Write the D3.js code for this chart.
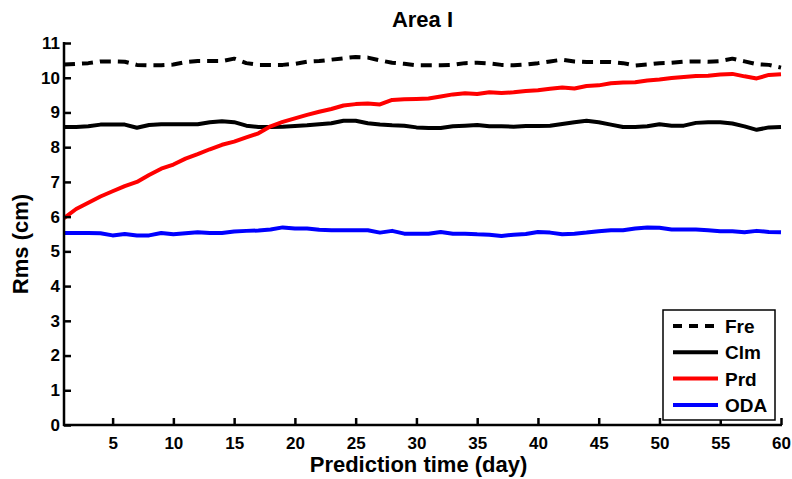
<!DOCTYPE html>
<html lang="en">
<head>
<meta charset="utf-8">
<title>Area I</title>
<script src="https://cdn.jsdelivr.net/npm/d3@7"></script>
<style>
body{margin:0;background:#fff;}
text{font-family:"Liberation Sans",Arial,Helvetica,sans-serif;font-weight:bold;}
</style>
</head>
<body>
<script>
// days 1..60
var days = d3.range(1, 61);

var fre = [10.38,10.40,10.42,10.47,10.47,10.46,10.37,10.36,10.36,10.38,
           10.45,10.48,10.48,10.48,10.55,10.42,10.37,10.37,10.37,10.40,
           10.46,10.48,10.52,10.56,10.60,10.58,10.50,10.43,10.40,10.36,
           10.36,10.36,10.37,10.42,10.43,10.41,10.37,10.36,10.38,10.42,
           10.47,10.52,10.47,10.45,10.45,10.45,10.42,10.35,10.38,10.42,
           10.43,10.46,10.47,10.46,10.48,10.55,10.47,10.39,10.37,10.29];
var clm = [8.58,8.58,8.60,8.65,8.65,8.65,8.56,8.64,8.66,8.66,
           8.66,8.66,8.72,8.75,8.72,8.62,8.58,8.58,8.59,8.61,
           8.63,8.66,8.69,8.76,8.76,8.69,8.65,8.63,8.62,8.57,
           8.55,8.55,8.60,8.62,8.64,8.60,8.60,8.59,8.61,8.61,
           8.62,8.67,8.72,8.76,8.72,8.65,8.58,8.58,8.60,8.66,
           8.62,8.62,8.70,8.72,8.72,8.68,8.60,8.50,8.57,8.58];
var prd = [5.96,6.22,6.40,6.58,6.73,6.88,7.00,7.20,7.38,7.50,
           7.67,7.80,7.94,8.07,8.16,8.28,8.40,8.60,8.73,8.83,
           8.93,9.02,9.10,9.20,9.24,9.26,9.23,9.36,9.38,9.39,
           9.40,9.46,9.52,9.55,9.53,9.58,9.56,9.58,9.62,9.64,
           9.68,9.72,9.69,9.76,9.78,9.84,9.86,9.87,9.92,9.95,
           9.99,10.02,10.05,10.06,10.09,10.11,10.04,9.98,10.08,10.10];
var oda = [5.53,5.53,5.53,5.52,5.46,5.50,5.46,5.46,5.53,5.49,
           5.52,5.55,5.53,5.53,5.57,5.59,5.60,5.63,5.69,5.66,
           5.66,5.62,5.61,5.61,5.61,5.61,5.54,5.59,5.51,5.51,
           5.51,5.56,5.51,5.51,5.49,5.48,5.44,5.48,5.50,5.56,
           5.54,5.49,5.51,5.54,5.58,5.61,5.61,5.66,5.69,5.68,
           5.63,5.63,5.63,5.61,5.58,5.58,5.55,5.59,5.56,5.55];

var seriesNames = ["Fre", "Clm", "Prd", "ODA"];
var seriesData = [fre, clm, prd, oda];
var seriesColors = ["#000", "#000", "#ff0000", "#0000ff"];
var seriesDash = ["11,7", null, null, null];

var xTicks = [5,10,15,20,25,30,35,40,45,50,55,60];
var yTicks = [0,1,2,3,4,5,6,7,8,9,10,11];

var w = 792, h = 479;
// plot box (window.top is reserved, so use other names)
var pL = 64, pR = 781, pT = 43, pB = 425;

var svg = d3.select("body").append("svg")
    .attr("width", w).attr("height", h);

var x = d3.scaleLinear().domain([1, 60]).range([pL, pR]);
var y = d3.scaleLinear().domain([0, 11]).range([pB, pT]);

// lines
var line = d3.line()
    .x(function(d, i){ return x(days[i]); })
    .y(function(d){ return y(d); });

seriesData.forEach(function(s, k){
  svg.append("path")
     .datum(s)
     .attr("d", line)
     .attr("fill", "none")
     .attr("stroke", seriesColors[k])
     .attr("stroke-width", 4)
     .attr("stroke-dasharray", seriesDash[k])
     .attr("stroke-linejoin", "round");
});

// axes, ticks pointing inward like matlab
var xAxis = svg.append("g")
    .attr("transform", "translate(0," + pB + ")")
    .call(d3.axisBottom(x).tickValues(xTicks).tickSizeInner(-7).tickSizeOuter(0).tickPadding(12));
var yAxis = svg.append("g")
    .attr("transform", "translate(" + pL + ",0)")
    .call(d3.axisLeft(y).tickValues(yTicks).tickSizeInner(-7).tickSizeOuter(0).tickPadding(4));

[xAxis, yAxis].forEach(function(a){
  a.attr("font-size", null).attr("font-family", null);
  a.select(".domain").attr("stroke", "#000").attr("stroke-width", 2.5);
  a.selectAll(".tick line").attr("stroke", "#000").attr("stroke-width", 2.5);
  a.selectAll(".tick text")
   .style("font-size", "17px")
   .attr("fill", "#000");
});
xAxis.select(".domain").attr("d", "M" + (pL - 1) + ",0H" + (pR + 1));
yAxis.select(".domain").attr("d", "M0," + (pT - 1) + "V" + (pB + 1));

// title and labels
svg.append("text")
   .attr("x", (pL + pR) / 2).attr("y", 27)
   .attr("text-anchor", "middle")
   .style("font-size", "22px")
   .text("Area I");

svg.append("text")
   .attr("x", (pL + pR) / 2 - 4).attr("y", 472)
   .attr("text-anchor", "middle")
   .style("font-size", "22px")
   .text("Prediction time (day)");

svg.append("text")
   .attr("transform", "translate(28,244) rotate(-90)")
   .attr("text-anchor", "middle")
   .style("font-size", "22px")
   .text("Rms (cm)");

// legend
var lg = svg.append("g");
lg.append("rect")
  .attr("x", 663).attr("y", 310)
  .attr("width", 112).attr("height", 110)
  .attr("fill", "#fff").attr("stroke", "#000").attr("stroke-width", 1.5);

seriesNames.forEach(function(n, k){
  var yy = 326 + k * 26.3;
  lg.append("line")
    .attr("x1", 673).attr("x2", 718)
    .attr("y1", yy).attr("y2", yy)
    .attr("stroke", seriesColors[k])
    .attr("stroke-width", 4)
    .attr("stroke-dasharray", seriesDash[k] ? "9,7" : null);
  lg.append("text")
    .attr("x", 725).attr("y", yy + 7)
    .style("font-size", "19px")
    .text(n);
});
</script>
</body>
</html>
